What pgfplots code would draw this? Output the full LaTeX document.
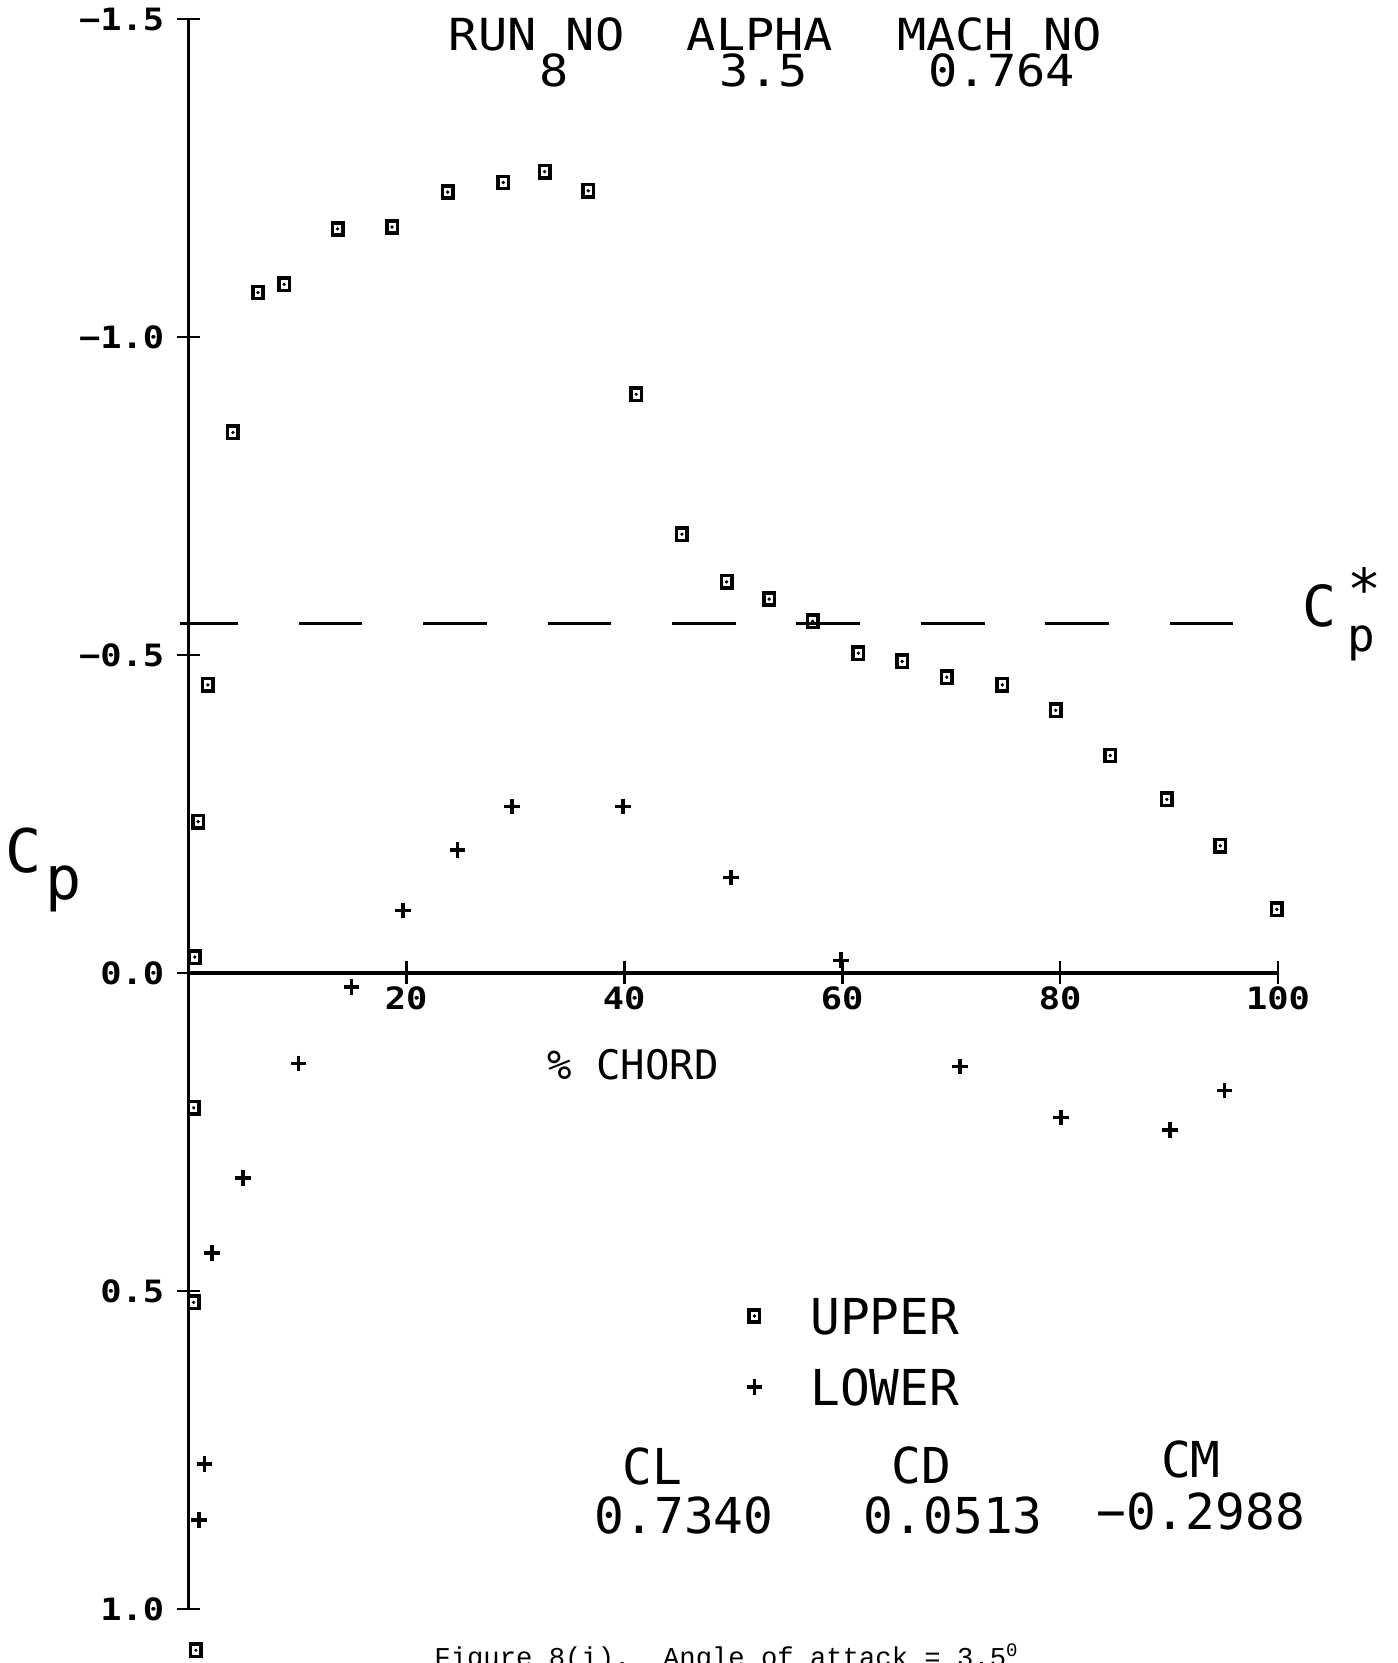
\documentclass[border=0pt]{standalone}
\usepackage{fontspec}
\setmainfont{DejaVu Sans Mono}
\newfontfamily\hdrfont[FakeStretch=1.1]{DejaVu Sans Mono}
\newfontfamily\tickfont[FakeStretch=1.15]{DejaVu Sans Mono}
\newfontfamily\capfont{Liberation Mono}
\usepackage{pgfplots}
\pgfplotsset{compat=1.18}

% square with a dot in it, as the plotter drew for the upper surface
\pgfdeclareplotmark{sqdot}{%
  \pgfpathrectangle{\pgfqpoint{-0.85\pgfplotmarksize}{-\pgfplotmarksize}}{\pgfqpoint{1.7\pgfplotmarksize}{2\pgfplotmarksize}}%
  \pgfusepathqstroke
  \pgfpathcircle{\pgfpointorigin}{0.3\pgfplotmarksize}%
  \pgfusepathqfill
}
\pgfplotsset{dotlegend/.style={legend image code/.code={\draw[##1] plot coordinates {(0pt,0pt)};}}}
\newcommand\hdr{\hdrfont\fontsize{12.5}{14}\selectfont}
\newcommand\bigtxt{\fontsize{14}{16}\selectfont}

\begin{document}
\begin{tikzpicture}
\path[use as bounding box] (-53.25pt,-15.3pt) rectangle (342.15pt,455.1pt);
\begin{axis}[
  at={(0pt,0pt)}, anchor=south west,
  scale only axis, width=308.25pt, height=449.7pt,
  xmin=0, xmax=100, ymin=-1.5, ymax=1.0, y dir=reverse,
  axis x line=middle, axis y line=left,
  x axis line style={-}, y axis line style={-},
  axis line style={line width=0.9pt, black},
  xtick={20,40,60,80,100},
  xticklabels={20,40,60,80,100},
  ytick={-1.5,-1,-0.5,0,0.5,1},
  yticklabels={−1.5,−1.0,−0.5,0.0,0.5,1.0},
  tick align=center, major tick length=6.5pt,
  tick style={line width=0.8pt, black},
  ticklabel style={font=\tickfont\fontsize{8.7}{10}\selectfont\bfseries},
  xticklabel style={yshift=3pt},
  clip=false,
  legend style={
    at={(axis cs:51.24,0.511)}, anchor=north west,
    draw=none, fill=none, inner sep=0pt, outer sep=0pt,
    font=\bigtxt, row sep=9.9pt,
    nodes={inner sep=0pt, text height=10.2pt, text depth=0pt},
    /tikz/every odd column/.append style={column sep=13.6pt},
  },
]
% upper surface
\addplot[only marks, mark=sqdot, mark size=1.75pt, line width=1pt, dotlegend] coordinates {
(0.7,1.065) (0.5,0.518) (0.5,0.212) (0.6,-0.025) (0.9,-0.238) (1.8,-0.453)
(4.1,-0.85) (6.4,-1.07) (8.8,-1.083) (13.7,-1.17) (18.7,-1.173) (23.8,-1.228)
(28.9,-1.243) (32.7,-1.26) (36.7,-1.23) (41.1,-0.91) (45.3,-0.69) (49.4,-0.615)
(53.3,-0.588) (57.3,-0.553) (61.5,-0.503) (65.5,-0.49) (69.6,-0.465) (74.7,-0.453)
(79.6,-0.413) (84.6,-0.342) (89.8,-0.273) (94.7,-0.2) (99.9,-0.10)
};
% lower surface
\addplot[only marks, mark=+, mark size=2.2pt, line width=1pt, dotlegend] coordinates {
(1.0,0.86) (1.5,0.772) (2.2,0.44) (5.0,0.322) (10.1,0.142) (15.0,0.022)
(19.7,-0.098) (24.7,-0.193) (29.7,-0.262) (39.9,-0.262) (49.8,-0.15)
(59.9,-0.02) (70.8,0.147) (80.1,0.227) (90.1,0.247) (95.1,0.185)
};
\legend{UPPER,LOWER}
% sonic Cp*
\addplot[forget plot, no marks, line width=0.9pt, dash pattern=on 18pt off 17.2pt, dash phase=1.5pt]
  coordinates {(-0.8,-0.55) (96.1,-0.55)};

\node[anchor=base, inner sep=0pt, font=\hdr] at (axis cs:31.97,-1.450) {RUN NO};
\node[anchor=base, inner sep=0pt, font=\hdr] at (axis cs:33.6,-1.394) {8};
\node[anchor=base, inner sep=0pt, font=\hdr] at (axis cs:52.46,-1.450) {ALPHA};
\node[anchor=base, inner sep=0pt, font=\hdr] at (axis cs:52.8,-1.394) {3.5};
\node[anchor=base, inner sep=0pt, font=\hdr] at (axis cs:74.45,-1.450) {MACH NO};
\node[anchor=base, inner sep=0pt, font=\hdr] at (axis cs:74.65,-1.394) {0.764};

\node[anchor=base west, inner sep=0pt, font=\fontsize{17}{18}\selectfont] at (axis cs:-16.8,-0.158) {C};
\node[anchor=base west, inner sep=0pt, font=\fontsize{17}{18}\selectfont] at (axis cs:-13.2,-0.115) {p};

\node[anchor=base west, inner sep=0pt, font=\fontsize{16}{18}\selectfont] at (axis cs:102.2,-0.545) {C};
\node[anchor=north, inner sep=0pt, font=\fontsize{16}{18}\selectfont] at (axis cs:107.9,-0.638) {*};
\node[anchor=base west, inner sep=0pt, font=\fontsize{13}{15}\selectfont] at (axis cs:106.3,-0.505) {p};

\node[anchor=base, inner sep=0pt, font=\fontsize{11.5}{13}\selectfont] at (axis cs:40.8,0.168) {\% CHORD};

\node[anchor=base, inner sep=0pt, font=\bigtxt] at (axis cs:42.6,0.805) {CL};
\node[anchor=base, inner sep=0pt, font=\bigtxt] at (axis cs:67.3,0.802) {CD};
\node[anchor=base, inner sep=0pt, font=\bigtxt] at (axis cs:92.0,0.793) {CM};
\node[anchor=base, inner sep=0pt, font=\bigtxt] at (axis cs:45.5,0.882) {0.7340};
\node[anchor=base, inner sep=0pt, font=\bigtxt] at (axis cs:70.2,0.882) {0.0513};
\node[anchor=base, inner sep=0pt, font=\bigtxt] at (axis cs:92.9,0.875) {−0.2988};
\end{axis}
\begin{scope}
\clip (-53.25pt,-15.3pt) rectangle (342.15pt,455.1pt);
\node[anchor=north west, inner sep=0pt, font=\capfont\fontsize{7.7}{9}\selectfont] at (69.45pt,-9.6pt)
  {Figure 8(i).\ \ Angle of attack = 3.5\textsuperscript{0}};
\end{scope}
\end{tikzpicture}
\end{document}
